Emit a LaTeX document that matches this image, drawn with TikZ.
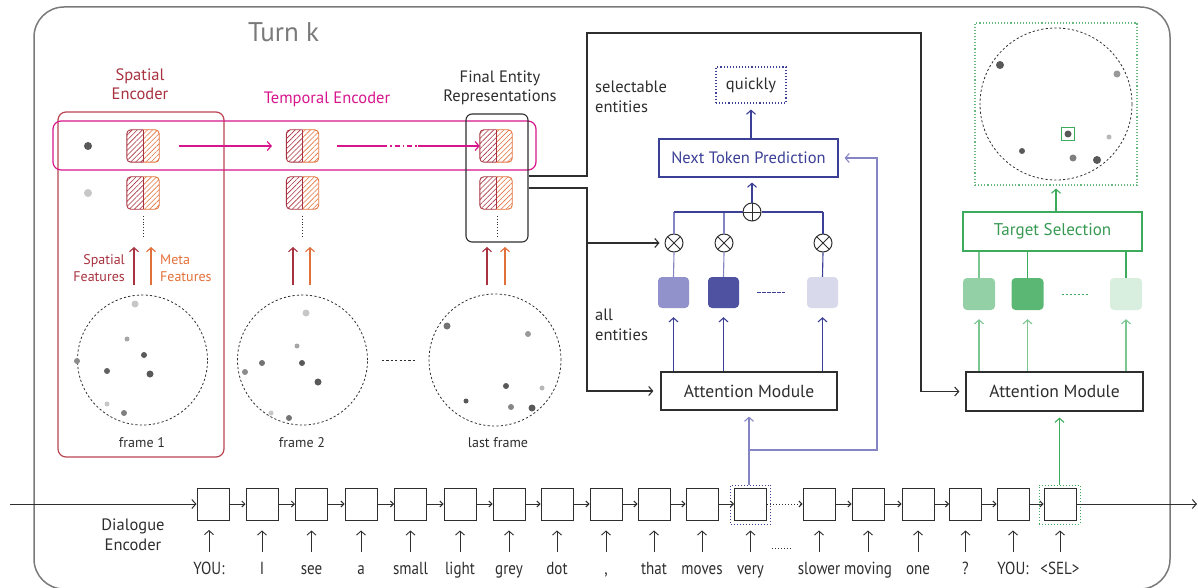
\documentclass[tikz,border=0pt]{standalone}
\usepackage{fontspec}
\setmainfont{PT Sans}
\newfontfamily\tokfont[FakeStretch=0.86]{PT Sans}
\usetikzlibrary{arrows.meta,patterns.meta,calc}
\definecolor{sred}{HTML}{A8323F}
\definecolor{sredbox}{HTML}{B94452}
\definecolor{sorange}{HTML}{E2703A}
\definecolor{mag}{HTML}{D7168C}
\definecolor{bdark}{HTML}{3B3F96}
\definecolor{blight}{HTML}{8585C5}
\definecolor{gmain}{HTML}{3DAA5C}
\definecolor{glight}{HTML}{7CC692}
\definecolor{txt}{HTML}{2E2E2E}
\definecolor{frameg}{HTML}{7A7A7A}
\tikzset{
  arr/.style={-{Straight Barb[length=4pt,width=9pt]}},
  smallarr/.style={-{Straight Barb[length=3pt,width=6pt]}},
  lab/.style={text=txt,font=\fontsize{16.5}{19.5}\selectfont,align=center,inner sep=0},
  smalllab/.style={font=\fontsize{14}{17}\selectfont,inner sep=0},
  tok/.style={draw=txt,line width=1,minimum size=32,inner sep=0},
  word/.style={text=txt,font=\tokfont\fontsize{17.5}{20}\selectfont,inner sep=0,anchor=base},
  module/.style={draw=txt,line width=1.2,minimum height=38,inner sep=0,font=\fontsize{17.5}{20}\selectfont,text=txt},
  hsqbox/.style={minimum size=32,inner sep=0},
  frame/.style={circle,draw=txt,line width=0.8,dash pattern=on 2.2pt off 2.2pt,minimum size=130,inner sep=0},
  xcirc/.style={circle,draw=txt,line width=1,minimum size=18,inner sep=0,
    path picture={\draw[txt,line width=1] (path picture bounding box.north west) -- (path picture bounding box.south east)
      (path picture bounding box.north east) -- (path picture bounding box.south west);}},
  pcirc/.style={circle,draw=txt,line width=1,minimum size=18,inner sep=0,
    path picture={\draw[txt,line width=1] (path picture bounding box.north) -- (path picture bounding box.south)
      (path picture bounding box.east) -- (path picture bounding box.west);}},
  ent/.style={rounded corners=4,minimum size=31,inner sep=0},
}
\newcommand\hatchsq[3]{%
  \node[hsqbox] (#1) at (#2,#3) {};
  \begin{scope}
    \clip[rounded corners=4] (#1.south west) rectangle (#1.north east);
    \fill[pattern={Lines[angle=45,distance=3.6pt,line width=0.6pt]},pattern color=sred] (#1.south west) rectangle (#1.north);
    \fill[pattern={Lines[angle=45,distance=3.6pt,line width=0.6pt]},pattern color=sorange] (#1.south) rectangle (#1.north east);
  \end{scope}
  \draw[sred,line width=0.9,rounded corners=4] (#1.north) -- (#1.north west) -- (#1.south west) -- (#1.south);
  \draw[sorange,line width=0.9,rounded corners=4] (#1.north) -- (#1.north east) -- (#1.south east) -- (#1.south);
  \draw[sred,line width=0.9] (#1.north) -- (#1.south);
}
\begin{document}
\begin{tikzpicture}[x=1pt,y=-1pt]
\useasboundingbox (0,0) rectangle (1198,588);
% outer turn frame
\draw[frameg,line width=1.5,rounded corners=30] (34,7) rectangle (1170,589);
\node[anchor=base west,text=frameg,font=\fontsize{27}{30}\selectfont,inner sep=0] (title) at (248,42) {Turn $\mathrm{k}$};

% ---------------- left: encoders ----------------
\node[draw=sredbox,line width=1.2,rounded corners=8,minimum width=166,minimum height=345,inner sep=0] (spenc) at (141,284.5) {};
\node[lab,text=sred] (spenclab) at (140,84) {Spatial\\Encoder};
\node[lab,text=mag] (tenclab) at (327,99) {Temporal Encoder};
\node[lab] (felab) at (500,88) {Final Entity\\Representations};

% hatched entity squares
\hatchsq{s11}{143}{146}
\hatchsq{s12}{143}{193}
\hatchsq{s21}{302.5}{146}
\hatchsq{s22}{302.5}{193}
\hatchsq{s31}{496}{146}
\hatchsq{s32}{496}{193}

% temporal band and final entity box
\node[draw=mag,line width=1.2,rounded corners=8,minimum width=483,minimum height=49,inner sep=0] (tband) at (294.5,145.5) {};
\node[draw=txt,line width=1.1,rounded corners=6,minimum width=62,minimum height=128,inner sep=0] (fe) at (497,178) {};

% entity dots
\fill[black!65] (88,146) circle (4pt);
\fill[black!22] (88,193) circle (4pt);

% dotted continuation
\draw[txt,line width=0.8,dotted] (143,216) -- (143,236);
\draw[txt,line width=0.8,dotted] (302.5,216) -- (302.5,236);
\draw[txt,line width=0.8,dotted] (497,216) -- (497,236);

% magenta temporal arrows
\draw[mag,line width=1.2,arr] (s11.east)++(20,0) -- (272,146);
\coordinate (m1) at (337,146);
\coordinate (m2) at (382,146);
\coordinate (m3) at (418,146);
\draw[mag,line width=1.2] (m1) -- (m2);
\draw[mag,line width=1.2,dash pattern=on 5pt off 3pt on 1.5pt off 3pt] (m2) -- (m3);
\draw[mag,line width=1.2,arr] (m3) -- (s31.west);

% feature arrows
\coordinate (a1) at (134,285); \coordinate (a1t) at (134,247);
\coordinate (b1) at (151,285); \coordinate (b1t) at (151,247);
\coordinate (a2) at (293,285); \coordinate (a2t) at (293,247);
\coordinate (b2) at (310,285); \coordinate (b2t) at (310,247);
\coordinate (a3) at (487,285); \coordinate (a3t) at (487,247);
\coordinate (b3) at (505,285); \coordinate (b3t) at (505,247);
\foreach \p in {1,2,3}{
  \draw[sred,line width=1.1,arr] (a\p) -- (a\p t);
  \draw[sorange,line width=1.1,arr] (b\p) -- (b\p t);
}
\node[smalllab,text=sred,align=right,anchor=east] (sflab) at (125,268) {Spatial\\Features};
\node[smalllab,text=sorange,align=left,anchor=west] (mflab) at (160,268) {Meta\\Features};

% frames
\node[frame] (c1) at (142.5,360) {};
\node[frame] (c2) at (302.5,360) {};
\node[frame,minimum size=132] (c3) at (495,360) {};
\draw[txt,line width=0.8,dash pattern=on 2.2pt off 2.2pt] (c2.east)++(14,0) -- ($(c3.west)+(-12,0)$);
\node[smalllab,text=txt] (f1lab) at (142,443) {frame 1};
\node[smalllab,text=txt] (f2lab) at (302,443) {frame 2};
\node[smalllab,text=txt] (f3lab) at (498,443) {last frame};

% dots frame 1
\fill[black!22] (135,304) circle (3.5pt);
\fill[black!35] (127,339) circle (2.5pt);
\fill[black!65] (144,355) circle (3pt);
\fill[black!45] (77,361) circle (3pt);
\fill[black!62] (107,371) circle (3pt);
\fill[black!65] (150,374) circle (3.5pt);
\fill[black!22] (107,404) circle (2.5pt);
\fill[black!50] (124,413) circle (3pt);
% dots frame 2
\fill[black!22] (306,313) circle (3.5pt);
\fill[black!35] (297,346) circle (2.5pt);
\fill[black!55] (262,363) circle (3pt);
\fill[black!65] (302,363) circle (3pt);
\fill[black!45] (245,372) circle (3pt);
\fill[black!65] (318,382) circle (3.5pt);
\fill[black!22] (271,413) circle (2.5pt);
\fill[black!55] (289,418) circle (3pt);
% dots last frame
\fill[black!55] (447,326) circle (3.5pt);
\fill[black!40] (528,334) circle (3pt);
\fill[black!65] (506,386) circle (3pt);
\fill[black!28] (542,388) circle (2.5pt);
\fill[black!65] (466,401) circle (2.5pt);
\fill[black!48] (511,407) circle (3pt);
\fill[black!65] (532,408) circle (3.5pt);

% ---------------- middle: next token prediction ----------------
\node[module] (amL) at (749,391) [minimum width=176] {Attention Module};
\node[draw=bdark,line width=1.1,minimum width=179,minimum height=38,inner sep=0,font=\fontsize{16.5}{20}\selectfont,text=bdark] (ntp) at (748.5,158) {Next Token Prediction};
\node[draw=bdark,line width=1.1,dotted,minimum width=70,minimum height=36,inner sep=0,font=\fontsize{16.5}{19}\selectfont,text=txt] (quick) at (751,85) {quickly};
\node[lab,align=left,anchor=west] (sellab) at (595,97) {selectable\\entities};
\node[lab,align=left,anchor=west] (alllab) at (595,325) {all\\entities};

\node[ent,fill=blight!90!white] (bq1) at (673.5,292.5) {};
\node[ent,fill=bdark!90!white] (bq2) at (723.5,292.5) {};
\node[ent,fill=bdark!20] (bq3) at (822.5,292.5) {};
\draw[bdark,line width=1,dash pattern=on 4pt off 1pt] ($(bq2.east)+(18,0)$) -- ($(bq3.west)+(-22,0)$);

\node[xcirc] (o1) at (674,243) {};
\node[xcirc] (o2) at (724,243) {};
\node[xcirc] (o3) at (823,243) {};
\node[pcirc] (pl) at (752,212) {};

\draw[blight,line width=1.1] (o1.north) -- (o1.north |- pl);
\draw[blight,line width=1.1] (o2.north) -- (o2.north |- pl);
\draw[bdark,line width=1.1] (o3.north) -- (o3.north |- pl);
\draw[bdark,line width=1.1] (o1.north |- pl) -- (pl.west) (pl.east) -- (o3.north |- pl);
\draw[blight,line width=1.1] (o1.south) -- (bq1.north);
\draw[blight,line width=1.1] (o2.south) -- (bq2.north);
\draw[bdark,line width=1.1] (o3.south) -- (bq3.north);
\draw[bdark,line width=1.1,arr,shorten >=5] (pl.north) -- (ntp.south -| pl);
\draw[bdark,line width=1.1,arr,shorten >=6] (ntp.north -| quick) -- (quick.south);

\draw[bdark,line width=1.1,arr,shorten >=9] (amL.north -| bq1) -- (bq1.south);
\draw[bdark,line width=1.1,arr,shorten >=9] (amL.north -| bq2) -- (bq2.south);
\draw[bdark,line width=1.1,arr,shorten >=9] (amL.north -| bq3) -- (bq3.south);

% ---------------- right: target selection ----------------
\node[module] (amR) at (1054.5,391.5) [minimum width=177,minimum height=39] {Attention Module};
\node[draw=gmain,line width=1.1,minimum width=179,minimum height=39,inner sep=0,font=\fontsize{17}{20}\selectfont,text=gmain!90!black] (ts) at (1052.5,231.5) {Target Selection};
\node[draw=gmain!80,line width=1.1,dotted,minimum size=162,inner sep=0] (tbox) at (1056,104) {};
\node[circle,draw=txt,line width=0.8,dash pattern=on 2.2pt off 2.2pt,minimum size=152,inner sep=0] (c4) at (1056,104) {};
\fill[black!65] (1000,65) circle (4pt);
\fill[black!40] (1117,74) circle (3.5pt);
\fill[black!65] (1068,134) circle (3.5pt);
\node[draw=gmain,line width=1,minimum size=13,inner sep=0] (selbox) at (1068,134) {};
\fill[black!28] (1109,137) circle (2.5pt);
\fill[black!65] (1022,151) circle (3pt);
\fill[black!50] (1073,158) circle (3.5pt);
\fill[black!65] (1097,160) circle (4pt);

\node[ent,minimum size=32,fill=gmain!55!white] (gq1) at (979,294) {};
\node[ent,minimum size=32,fill=gmain!85!white] (gq2) at (1027.5,294) {};
\node[ent,minimum size=32,fill=gmain!20!white] (gq3) at (1126,294) {};
\draw[gmain,line width=1,dash pattern=on 2pt off 2pt] ($(gq2.east)+(18,0)$) -- ($(gq3.west)+(-21,0)$);
\draw[glight,line width=1.1] (gq1.north) -- (gq1.north |- ts.south);
\draw[gmain,line width=1.1] (gq2.north) -- (gq2.north |- ts.south);
\draw[gmain,line width=1.1] (gq3.north) -- (gq3.north |- ts.south);
\draw[gmain,line width=1.1,arr,shorten >=3] (ts.north -| tbox) -- (tbox.south);
\draw[glight,line width=1.1,arr,shorten >=9] (amR.north -| gq1) -- (gq1.south);
\draw[glight,line width=1.1,arr,shorten >=9] (amR.north -| gq2) -- (gq2.south);
\draw[glight,line width=1.1,arr,shorten >=9] (amR.north -| gq3) -- (gq3.south);

% ---------------- entity routing ----------------
\draw[txt,line width=1.1,arr,shorten >=6] ([yshift=2]fe.east) -- (587,176) -- (587,33) -- (921,33) |- (amR.west);
\draw[txt,line width=1.1,arr,shorten >=7] ([yshift=-10]fe.east) -- (587,188) |- (amL.west);
\draw[txt,line width=1.1,arr,shorten >=5] (587,243) -- (o1.west);

% ---------------- dialogue encoder ----------------
\node[lab,font=\fontsize{16.5}{20}\selectfont] (delab) at (133,535) {Dialogue\\Encoder};
\node[tok] (t1) at (213,504) {};
\node[tok] (t2) at (262,504) {};
\node[tok] (t3) at (311.5,504) {};
\node[tok] (t4) at (361,504) {};
\node[tok] (t5) at (410.5,504) {};
\node[tok] (t6) at (460,504) {};
\node[tok] (t7) at (509,504) {};
\node[tok] (t8) at (557,504) {};
\node[tok] (t9) at (606,504) {};
\node[tok] (t10) at (654,504) {};
\node[tok] (t11) at (702,504) {};
\node[tok] (t12) at (750.5,504) {};
\node[tok] (t13) at (819,504) {};
\node[tok] (t14) at (868,504) {};
\node[tok] (t15) at (918,504) {};
\node[tok] (t16) at (965.5,504) {};
\node[tok] (t17) at (1013,504) {};
\node[tok] (t18) at (1060,504) {};
\node[draw=bdark,line width=1,dotted,minimum width=40,minimum height=39,inner sep=0] (t12dot) at (750.5,504.5) {};
\node[draw=gmain,line width=1,dotted,minimum width=41,minimum height=39,inner sep=0] (t18dot) at (1059.5,504.5) {};

\coordinate (din) at (10,504);
\coordinate (dout) at (1197,504);
\draw[txt,line width=1,arr] (din) -- (t1.west);
\draw[txt,line width=1,arr] (t18.east) -- (dout);
\foreach \i/\j in {1/2,2/3,3/4,4/5,5/6,6/7,7/8,8/9,9/10,10/11,11/12,13/14,14/15,15/16,16/17,17/18}
  \draw[txt,line width=1,smallarr] (t\i.east) -- (t\j.west);
\draw[txt,line width=1,smallarr,dotted] (t12.east) -- (t13.west);

\node[word] (w1) at (209,574) {YOU:};
\node[word] (w2) at (262,574) {I};
\node[word] (w3) at (311.5,574) {see};
\node[word] (w4) at (361,574) {a};
\node[word] (w5) at (410.5,574) {small};
\node[word] (w6) at (460,574) {light};
\node[word] (w7) at (509,574) {grey};
\node[word] (w8) at (557,574) {dot};
\node[word] (w9) at (606,574) {,};
\node[word] (w10) at (654,574) {that};
\node[word] (w11) at (702,574) {moves};
\node[word] (w12) at (750.5,574) {very};
\node[word] (w13) at (819,574) {slower};
\node[word] (w14) at (868,574) {moving};
\node[word] (w15) at (918,574) {one};
\node[word] (w16) at (965.5,574) {?};
\node[word] (w17) at (1013,574) {YOU:};
\node[word] (w18) at (1060,574) {<SEL>};
\draw[txt,line width=0.9,arr] (w1.north |- 0,552) -- (w1.north |- 0,530);
\foreach \i in {2,...,18}
  \draw[txt,line width=0.9,arr] (t\i.south |- 0,552) -- ($(t\i.south)+(0,10)$);
\draw[txt,line width=1,dotted] (772,548) -- (792,548);

% feedback connectors
\draw[blight,line width=1.1,arr,shorten >=6] (t12dot.north -| amL) -- (amL.south);
\draw[blight,line width=1.1,arr,shorten >=6] (749,450) -- (877,450) |- (ntp.east);
\draw[gmain,line width=1.1,arr,shorten >=6] (t18dot.north) -- (t18dot.north |- amR.south);
\end{tikzpicture}
\end{document}
